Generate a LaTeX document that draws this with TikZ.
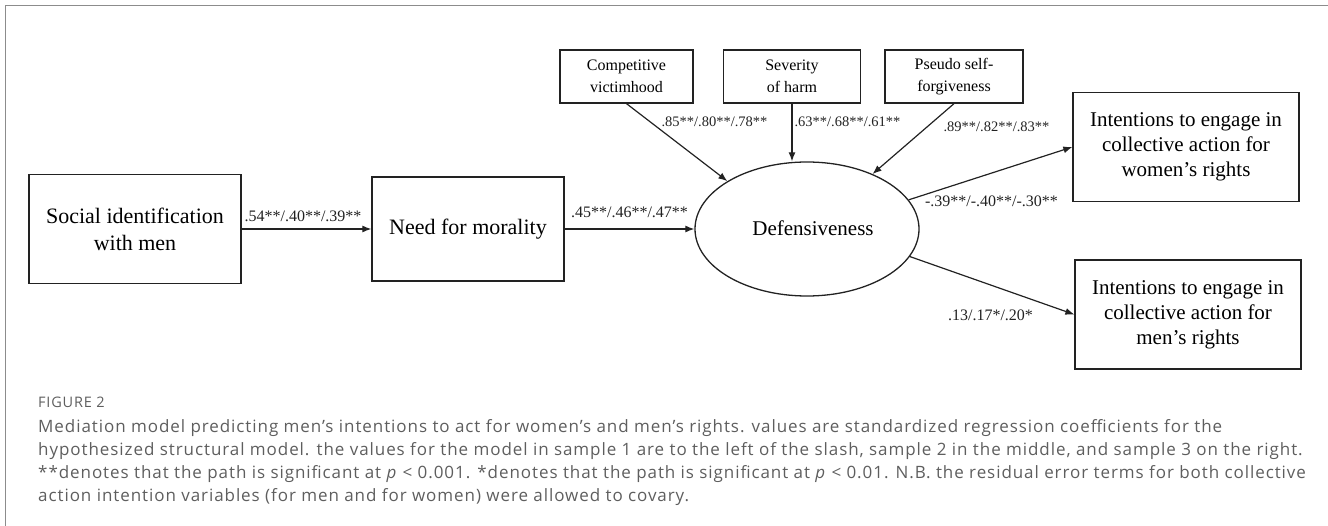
\documentclass[tikz,border=0pt]{standalone}
\usepackage{fontspec}
\setmainfont{Liberation Serif}
\newfontfamily\capfont[LetterSpace=5.5]{Open Sans}
\usetikzlibrary{arrows.meta,shapes.geometric}
\definecolor{framegray}{HTML}{8C8C8C}
\definecolor{capgray}{HTML}{5E5E5E}
\definecolor{ink}{HTML}{222222}
\begin{document}
\begin{tikzpicture}[x=1pt,y=-1pt,
  box/.style={draw=ink, line width=1.3pt, align=center, inner sep=0pt, font=\fontsize{22}{27}\selectfont},
  wbox/.style={draw=ink, line width=1.3pt, align=center, inner sep=0pt, font=\fontsize{21}{25}\selectfont},
  tbox/.style={draw=ink, line width=1.3pt, align=center, inner sep=0pt, font=\fontsize{16}{22}\selectfont},
  lab/.style={font=\fontsize{16}{18}\selectfont, inner sep=0pt, text=ink},
  tlab/.style={font=\fontsize{14.5}{16}\selectfont, inner sep=0pt, text=ink},
  arr/.style={draw=ink, line width=1.2pt, -{Latex[length=9pt,width=7pt]}},
  capline/.style={anchor=west, inner sep=0pt, text=capgray, font=\capfont\fontsize{17}{19}\selectfont},
]
\useasboundingbox (0,0) rectangle (1328,526);
\draw[framegray, line width=1.6pt] (5.5,526) -- (5.5,5.5) -- (1328,5.5);

% nodes
\node[box, minimum width=212pt, minimum height=109pt] (social) at (135,229) {Social identification\\with men};
\node[box, minimum width=192pt, minimum height=104pt] (need) at (468,229) {Need for morality};
\node[draw=ink, line width=1.3pt, ellipse, inner sep=0pt, minimum width=224pt, minimum height=134pt] (def) at (807,229) {};
\node[font=\fontsize{21}{25}\selectfont, inner sep=0pt] (deftext) at (813,228) {Defensiveness};
\node[tbox, minimum width=133pt, minimum height=53pt] (comp) at (626.5,76.5) {Competitive\\victimhood};
\node[tbox, minimum width=137pt, minimum height=53pt] (sev) at (792,76.5) {Severity\\of harm};
\node[tbox, minimum width=138pt, minimum height=53pt] (pseudo) at (954,76.5) {Pseudo self-\\forgiveness};
\node[wbox, minimum width=226pt, minimum height=109pt] (women) at (1186,147) {Intentions to engage in\\collective action for\\women’s rights};
\node[wbox, minimum width=226pt, minimum height=109pt] (men) at (1188,314.5) {Intentions to engage in\\collective action for\\men’s rights};

% connectors
\draw[arr] (social) -- (need);
\draw[arr] (need) -- (def);
\draw[arr] (comp.south) -- (def.149);
\draw[arr] (sev.south) -- (sev.south |- def.north);
\draw[arr] (pseudo.south) -- (def.40);
\draw[arr] (def.16.5) -- (women.west);
\draw[arr] (def.-15) -- (men.west);

% labels
\node[lab] (l1) at (303,216) {.54**/.40**/.39**};
\node[lab] (l2) at (629.5,212) {.45**/.46**/.47**};
\node[tlab] (l3) at (714.5,122) {.85**/.80**/.78**};
\node[tlab] (l4) at (847.5,122) {.63**/.68**/.61**};
\node[tlab] (l5) at (996.5,127) {.89**/.82**/.83**};
\node[lab] (l6) at (991.5,201) {-.39**/-.40**/-.30**};
\node[lab] (l7) at (990.5,315) {.13/.17*/.20*};

% caption
\node[capline, font=\capfont\fontsize{14.5}{16}\selectfont] (fig) at (38,402) {FIGURE 2};
\node[capline] (c1) at (38,428) {Mediation model predicting men’s intentions to act for women’s and men’s rights. values are standardized regression coefficients for the};
\node[capline] (c2) at (38,451) {hypothesized structural model. the values for the model in sample 1 are to the left of the slash, sample 2 in the middle, and sample 3 on the right.};
\node[capline] (c3) at (38,474) {**denotes that the path is significant at \textit{p} < 0.001. *denotes that the path is significant at \textit{p} < 0.01. N.B. the residual error terms for both collective};
\node[capline] (c4) at (38,497) {action intention variables (for men and for women) were allowed to covary.};
\end{tikzpicture}
\end{document}
